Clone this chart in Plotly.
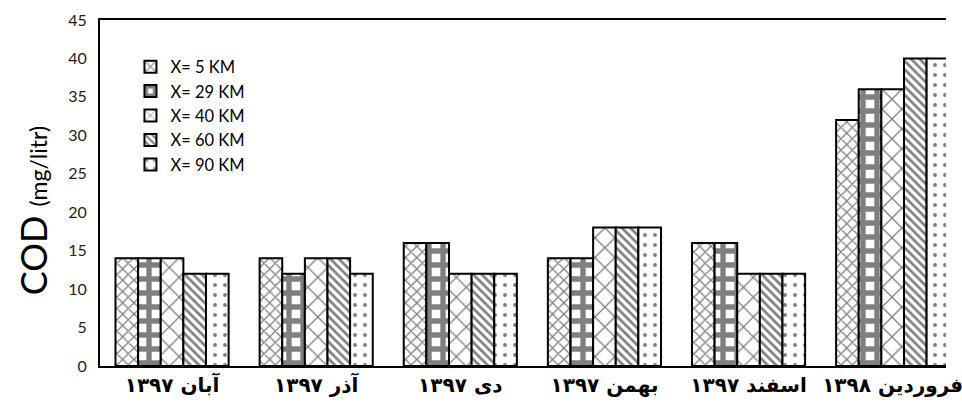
import plotly.graph_objects as go

categories = ["آبان ۱۳۹۷", "آذر ۱۳۹۷", "دی ۱۳۹۷", "بهمن ۱۳۹۷", "اسفند ۱۳۹۷", "فروردین ۱۳۹۸"]
series_names = ["X= 5 KM", "X= 29 KM", "X= 40 KM", "X= 60 KM", "X= 90 KM"]
x5 = [14, 14, 16, 14, 16, 32]
x29 = [14, 12, 16, 14, 16, 36]
x40 = [14, 14, 12, 18, 12, 36]
x60 = [12, 14, 12, 18, 12, 40]
x90 = [12, 12, 12, 18, 12, 40]
y_ticks = [0, 5, 10, 15, 20, 25, 30, 35, 40, 45]

values = [x5, x29, x40, x60, x90]
patterns = [
    dict(shape="x", size=8, solidity=0.3),
    dict(shape="+", size=14, solidity=0.62),
    dict(shape="x", size=14, solidity=0.18),
    dict(shape="\\", size=6, solidity=0.45),
    dict(shape=".", size=10, solidity=0.12),
]

fig = go.Figure()
for name, vals, pat in zip(series_names, values, patterns):
    fig.add_trace(go.Bar(
        x=categories, y=vals, name=name,
        marker=dict(color="white", line=dict(color="black", width=2),
                    pattern=dict(fgcolor="black", bgcolor="white", fillmode="overlay", **pat)),
    ))

fig.update_layout(
    width=962, height=412,
    margin=dict(l=100, r=0, t=20, b=46),
    paper_bgcolor="white", plot_bgcolor="white",
    barmode="group", bargap=0.215, bargroupgap=0,
    font=dict(family="Lato, 'Noto Sans', sans-serif", color="black"),
    showlegend=True,
    legend=dict(x=0.036, y=0.915, xanchor="left", yanchor="top",
                font=dict(size=16.5, family="Lato, sans-serif"),
                bgcolor="rgba(0,0,0,0)", tracegroupgap=0, itemwidth=30),
    xaxis=dict(range=[-0.5, 5.37], showline=True, linecolor="black", linewidth=2,
               mirror=True, ticks="", showgrid=False,
               tickfont=dict(size=20, family="DejaVu Sans", weight="bold", color="black")),
    yaxis=dict(range=[0, 45], tickvals=y_ticks, showline=True, linecolor="black",
               linewidth=2, ticks="", showgrid=False, zeroline=False,
               ticklabelstandoff=8,
               tickfont=dict(size=16, color="#222"),
               title=dict(text="COD <span style='font-size:23px'>(mg/litr)" + "&nbsp;" * 6 + "</span>",
                          font=dict(size=36, color="black"), standoff=10)),
)

fig.write_html("out.html", config={"displayModeBar": False},
               post_script="document.body.style.margin='0';")
